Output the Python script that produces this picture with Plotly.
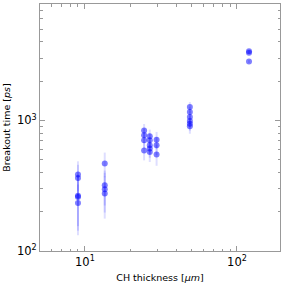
import plotly.graph_objects as go

# thickness [um] per shot
thickness = [9, 9, 9, 9, 9,
             13.5, 13.5, 13.5, 13.5,
             24.5, 24.5, 24.5, 24.5,
             26.7, 26.7, 26.7, 26.7, 26.7,
             29.6, 29.6, 29.6,
             49, 49, 49, 49, 49, 49,
             120, 120, 120]
breakout = [386, 362, 265, 259, 233,
            467, 318, 297, 275,
            838, 768, 703, 589,
            755, 703, 644, 608, 573,
            711, 644, 549,
            1265, 1158, 1060, 988, 944, 900,
            3388, 3296, 2825]
err = [100, 95, 110, 127, 90,
       100, 95, 100, 98,
       100, 95, 95, 95,
       95, 90, 90, 90, 93,
       105, 100, 100,
       115, 110, 105, 105, 110, 110,
       80, 80, 80]

x_tickvals = [10, 100]
x_ticktext = ["10<sup>1</sup>", "10<sup>2</sup>"]
y_tickvals = [100, 1000]
y_ticktext = ["10<sup>2</sup>", "10<sup>3</sup>"]
x_minor = [6, 7, 8, 9, 20, 30, 40, 50, 60, 70, 80, 90, 200]
y_minor = [200, 300, 400, 500, 600, 700, 800, 900, 2000, 3000, 4000, 5000, 6000, 7000]

fig = go.Figure(go.Scatter(
    x=thickness, y=breakout, mode="markers",
    marker=dict(color="rgba(0,0,255,0.5)", size=6, line=dict(width=0)),
    error_y=dict(type="data", array=err, visible=True, color="rgba(0,0,255,0.13)",
                 thickness=2, width=0),
    hoverinfo="skip",
))

axis_common = dict(
    type="log", showgrid=False, zeroline=False, showline=True, linecolor="#999",
    linewidth=1, mirror="allticks", ticks="inside", ticklen=5, tickcolor="#999",
    automargin=False,
    tickfont=dict(family="DejaVu Sans", size=11.5, color="black"),
)

fig.update_layout(
    width=285, height=284,
    margin=dict(l=40, r=4.5, t=3.5, b=33),
    paper_bgcolor="white", plot_bgcolor="white",
    showlegend=False,
    xaxis=dict(axis_common, range=[0.7045, 2.283],
               tickmode="array", tickvals=x_tickvals, ticktext=x_ticktext,
               minor=dict(ticks="inside", ticklen=2.5, tickcolor="#999",
                          tickmode="array", tickvals=x_minor, showgrid=False),
               title=dict(text="CH thickness [<i>μm</i>]", standoff=6,
                          font=dict(family="DejaVu Sans", size=9.5, color="black"))),
    yaxis=dict(axis_common, range=[2, 3.891],
               tickmode="array", tickvals=y_tickvals, ticktext=y_ticktext,
               minor=dict(ticks="inside", ticklen=2.5, tickcolor="#999",
                          tickmode="array", tickvals=y_minor, showgrid=False),
               title=dict(text="Breakout time [<i>ps</i>]", standoff=4,
                          font=dict(family="DejaVu Sans", size=9.5, color="black"))),
)

fig.write_html("out.html", post_script="document.body.style.margin='0';",
               config={"displayModeBar": False})
